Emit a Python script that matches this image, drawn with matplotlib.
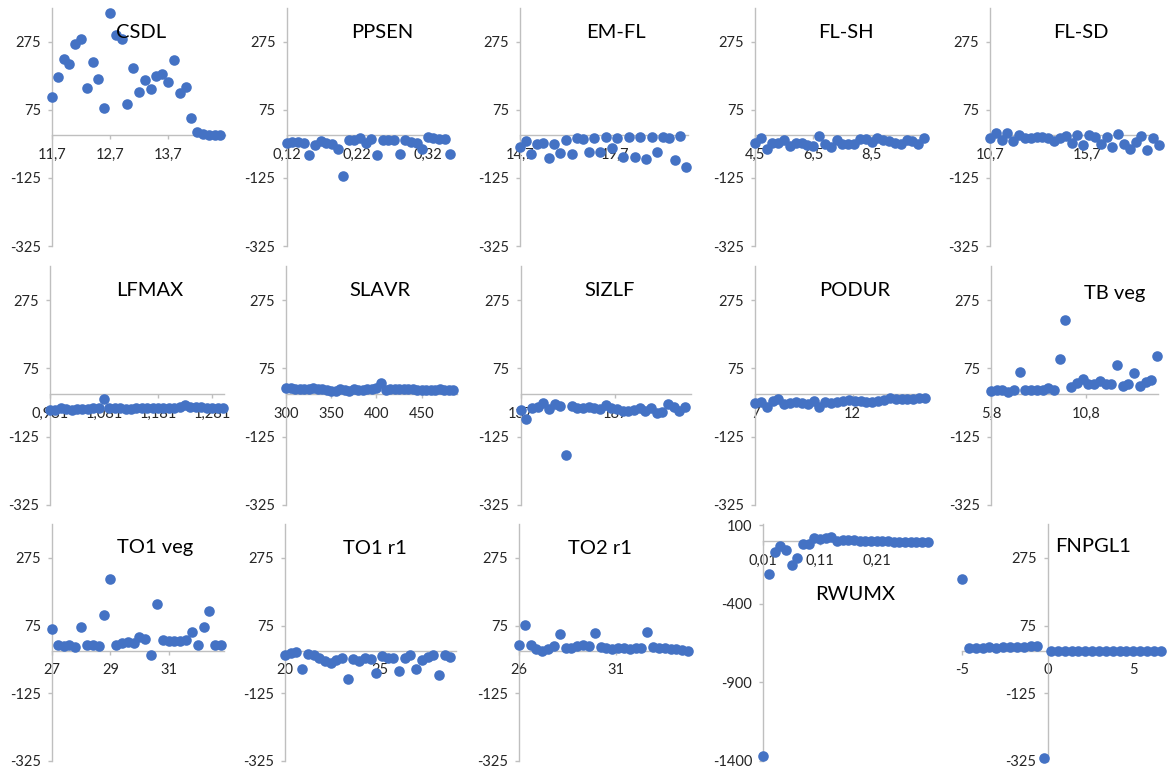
import matplotlib
matplotlib.use("Agg")
import matplotlib.pyplot as plt
from matplotlib.ticker import FixedLocator

plt.rcParams['font.family'] = ['Lato', 'DejaVu Sans']
plt.rcParams['axes.unicode_minus'] = False

# ---------------- data ----------------
CSDL_x = [11.7, 11.8, 11.9, 12.0, 12.1, 12.2, 12.3, 12.4, 12.5, 12.6, 12.7, 12.8, 12.9, 13.0, 13.1,
          13.2, 13.3, 13.4, 13.5, 13.6, 13.7, 13.8, 13.9, 14.0, 14.1, 14.2, 14.3, 14.4, 14.5, 14.6]
CSDL_y = [112, 171, 224, 210, 267, 282, 139, 215, 166, 79, 360, 295, 282, 93, 197,
          128, 163, 136, 173, 180, 156, 222, 124, 141, 51, 11, 3, 2, 2, 2]

PPSEN_x = [0.12, 0.128, 0.136, 0.144, 0.152, 0.16, 0.168, 0.176, 0.184, 0.192, 0.2, 0.208, 0.216, 0.224, 0.232,
           0.24, 0.248, 0.256, 0.264, 0.272, 0.28, 0.288, 0.296, 0.304, 0.312, 0.32, 0.328, 0.336, 0.344, 0.352]
PPSEN_y = [-22, -20, -19, -21, -59, -27, -17, -22, -26, -39, -119, -15, -15, -8, -22,
           -11, -59, -15, -15, -15, -54, -13, -20, -21, -41, -5, -8, -11, -12, -56]

EMFL_x = [14.7, 15.0, 15.3, 15.6, 15.9, 16.2, 16.5, 16.8, 17.1, 17.4, 17.7, 18.0, 18.3, 18.6, 18.9,
          19.2, 19.5, 19.8, 20.1, 20.4, 20.7, 21.0, 21.3, 21.6, 21.9, 22.2, 22.5, 22.8, 23.1, 23.4]
EMFL_y = [-34, -18, -54, -24, -22, -66, -24, -51, -15, -54, -7, -10, -50, -8, -49,
          -5, -37, -8, -63, -5, -63, -5, -70, -5, -50, -5, -8, -71, -2, -93]

FLSH_x = [4.5, 4.7, 4.9, 5.1, 5.3, 5.5, 5.7, 5.9, 6.1, 6.3, 6.5, 6.7, 6.9, 7.1, 7.3,
          7.5, 7.7, 7.9, 8.1, 8.3, 8.5, 8.7, 8.9, 9.1, 9.3, 9.5, 9.7, 9.9, 10.1, 10.3]
FLSH_y = [-22, -8, -39, -22, -22, -13, -31, -22, -22, -29, -31, -3, -26, -34, -13,
          -24, -24, -24, -10, -10, -20, -7, -13, -17, -22, -24, -13, -17, -26, -8]

FLSD_x = [10.7, 11.0, 11.3, 11.6, 11.9, 12.2, 12.5, 12.8, 13.1, 13.4, 13.7, 14.0, 14.3, 14.6, 14.9,
          15.2, 15.5, 15.8, 16.1, 16.4, 16.7, 17.0, 17.3, 17.6, 17.9, 18.2, 18.5, 18.8, 19.1, 19.4]
FLSD_y = [-7, 8, -15, 8, -17, 0, -8, -8, -5, -5, -8, -17, -8, -3, -22,
          0, -27, 0, -5, -24, -5, -34, 5, -24, -39, -20, -3, -44, -8, -27]

LFMAX_x = [0.981, 0.991, 1.001, 1.011, 1.021, 1.031, 1.041, 1.051, 1.061, 1.071, 1.081, 1.091, 1.101,
           1.111, 1.121, 1.131, 1.141, 1.151, 1.161, 1.171, 1.181, 1.191, 1.201, 1.211, 1.221, 1.231,
           1.241, 1.251, 1.261, 1.271, 1.281, 1.291, 1.301]
LFMAX_y = [-47, -47, -42, -45, -47, -45, -43, -43, -42, -42, -15, -40, -40,
           -40, -43, -43, -42, -42, -40, -40, -42, -42, -40, -40, -38, -32,
           -37, -38, -38, -40, -40, -40, -40]

SLAVR_x = [300, 305, 310, 315, 320, 325, 330, 335, 340, 345, 350, 355, 360, 365, 370, 375, 380, 385, 390,
           395, 400, 405, 410, 415, 420, 425, 430, 435, 440, 445, 450, 455, 460, 465, 470, 475, 480, 485]
SLAVR_y = [18, 17, 15, 14, 14, 15, 17, 15, 14, 12, 8, 10, 14, 12, 10, 15, 13, 12, 14,
           15, 18, 33, 12, 15, 16, 15, 15, 15, 14, 12, 12, 12, 12, 12, 14, 12, 12, 12]

SIZLF_x = [137, 140, 143, 146, 149, 152, 155, 158, 161, 164, 167, 170, 173, 176, 179,
           182, 185, 188, 191, 194, 197, 200, 203, 206, 209, 212, 215, 218, 221, 224]
SIZLF_y = [-47, -73, -40, -37, -25, -45, -30, -34, -180, -34, -42, -40, -37, -42, -44,
           -32, -42, -44, -50, -50, -47, -42, -50, -42, -57, -52, -30, -37, -50, -37]

PODUR_x = [7.0, 7.3, 7.6, 7.9, 8.2, 8.5, 8.8, 9.1, 9.4, 9.7, 10.0, 10.3, 10.6, 10.9, 11.2,
           11.5, 11.8, 12.1, 12.4, 12.7, 13.0, 13.3, 13.6, 13.9, 14.2, 14.5, 14.8, 15.1, 15.4, 15.7]
PODUR_y = [-25, -24, -39, -20, -14, -30, -27, -22, -27, -30, -20, -39, -24, -27, -22,
           -19, -17, -20, -20, -24, -22, -20, -17, -12, -15, -15, -15, -15, -12, -12]

TBVEG_x = [5.8, 6.1, 6.4, 6.7, 7.0, 7.3, 7.6, 7.9, 8.2, 8.5, 8.8, 9.1, 9.4, 9.7, 10.0,
           10.3, 10.6, 10.9, 11.2, 11.5, 11.8, 12.1, 12.4, 12.7, 13.0, 13.3, 13.6, 13.9, 14.2, 14.5]
TBVEG_y = [8, 11, 11, 5, 13, 65, 11, 13, 11, 11, 18, 13, 103, 217, 20,
           33, 45, 28, 28, 39, 28, 28, 84, 23, 28, 62, 23, 34, 40, 110]

TO1VEG_x = [27.0, 27.2, 27.4, 27.6, 27.8, 28.0, 28.2, 28.4, 28.6, 28.8, 29.0, 29.2, 29.4, 29.6, 29.8,
            30.0, 30.2, 30.4, 30.6, 30.8, 31.0, 31.2, 31.4, 31.6, 31.8, 32.0, 32.2, 32.4, 32.6, 32.8]
TO1VEG_y = [66, 18, 15, 18, 12, 72, 18, 18, 15, 106, 212, 18, 24, 27, 24,
            42, 36, -12, 139, 33, 30, 30, 30, 33, 57, 18, 72, 118, 18, 18]

TO1R1_x = [20.0, 20.3, 20.6, 20.9, 21.2, 21.5, 21.8, 22.1, 22.4, 22.7, 23.0, 23.3, 23.6, 23.9, 24.2,
           24.5, 24.8, 25.1, 25.4, 25.7, 26.0, 26.3, 26.6, 26.9, 27.2, 27.5, 27.8, 28.1, 28.4, 28.7]
TO1R1_y = [-12, -6, -3, -52, -8, -12, -20, -30, -35, -28, -22, -82, -25, -30, -20,
           -25, -64, -15, -20, -20, -58, -20, -12, -52, -28, -18, -12, -70, -12, -18]

TO2R1_x = [26.0, 26.3, 26.6, 26.9, 27.2, 27.5, 27.8, 28.1, 28.4, 28.7, 29.0, 29.3, 29.6, 29.9, 30.2,
           30.5, 30.8, 31.1, 31.4, 31.7, 32.0, 32.3, 32.6, 32.9, 33.2, 33.5, 33.8, 34.1, 34.4, 34.7]
TO2R1_y = [18, 78, 18, 6, 0, 6, 15, 51, 9, 9, 15, 18, 15, 54, 12,
           9, 6, 9, 9, 6, 9, 9, 57, 12, 9, 9, 6, 6, 3, 0]

RWUMX_x = [0.01, 0.02, 0.03, 0.04, 0.05, 0.06, 0.07, 0.08, 0.09, 0.10, 0.11, 0.12, 0.13, 0.14, 0.15,
           0.16, 0.17, 0.18, 0.19, 0.20, 0.21, 0.22, 0.23, 0.24, 0.25, 0.26, 0.27, 0.28, 0.29, 0.30]
RWUMX_y = [-1366, -211, -68, -32, -60, -154, -106, -22, -22, 20, 10, 20, 27, 3, 8,
           8, 6, 3, -1, -1, -1, 3, 3, -5, -5, -5, -5, -5, -5, -5]

FNPGL1_x = [-5.0, -4.6, -4.2, -3.8, -3.4, -3.0, -2.6, -2.2, -1.8, -1.4, -1.0, -0.6, -0.2,
            0.2, 0.6, 1.0, 1.4, 1.8, 2.2, 2.6, 3.0, 3.4, 3.8, 4.2, 4.6, 5.0, 5.4, 5.8, 6.2, 6.6]
FNPGL1_y = [213, 9, 9, 9, 12, 9, 12, 12, 12, 12, 14, 16, -316,
            0, 0, 0, 0, 0, 0, 0, 0, 0, 0, 0, 0, 0, 0, 0, 0, 0]

TITLES = ["CSDL", "PPSEN", "EM-FL", "FL-SH", "FL-SD",
          "LFMAX", "SLAVR", "SIZLF", "PODUR", "TB veg",
          "TO1 veg", "TO1 r1", "TO2 r1", "RWUMX", "FNPGL1"]
XS = [CSDL_x, PPSEN_x, EMFL_x, FLSH_x, FLSD_x, LFMAX_x, SLAVR_x, SIZLF_x, PODUR_x, TBVEG_x,
      TO1VEG_x, TO1R1_x, TO2R1_x, RWUMX_x, FNPGL1_x]
YS = [CSDL_y, PPSEN_y, EMFL_y, FLSH_y, FLSD_y, LFMAX_y, SLAVR_y, SIZLF_y, PODUR_y, TBVEG_y,
      TO1VEG_y, TO1R1_y, TO2R1_y, RWUMX_y, FNPGL1_y]

XTICKS = [[11.7, 12.7, 13.7], [0.12, 0.22, 0.32], [14.7, 19.7], [4.5, 6.5, 8.5], [10.7, 15.7],
          [0.981, 1.081, 1.181, 1.281], [300, 350, 400, 450], [137, 187], [7, 12], [5.8, 10.8],
          [27, 29, 31], [20, 25], [26, 31], [0.01, 0.11, 0.21], [-5, 0, 5]]
XTICKLABELS = [["11,7", "12,7", "13,7"], ["0,12", "0,22", "0,32"], ["14,7", "19,7"], ["4,5", "6,5", "8,5"],
               ["10,7", "15,7"], ["0,981", "1,081", "1,181", "1,281"], ["300", "350", "400", "450"],
               ["137", "187"], ["7", "12"], ["5,8", "10,8"], ["27", "29", "31"], ["20", "25"],
               ["26", "31"], ["0,01", "0,11", "0,21"], ["-5", "0", "5"]]
YTICKS_STD = [-325, -125, 75, 275]
YTICKS_RWUMX = [-1400, -900, -400, 100]

# ---------------- layout (pixels) ----------------
W, H = 1172, 771
ROW_TOP = [7.7, 266, 524]
ROW_BOT = [246, 505, 761]
# left px, right px, row, xmin, xmax, title x px, title y px
LAYOUT = [
    (52, 225, 0, 11.7, 14.68, 141, 33),
    (286.7, 448, 0, 0.12, 0.3486, 382, 33),
    (520, 688, 0, 14.7, 23.5, 616, 33),
    (755, 924, 0, 4.5, 10.3, 846, 33),
    (990, 1157, 0, 10.7, 19.3, 1081, 33),
    (50, 224, 1, 0.981, 1.303, 150, 291),
    (286, 456.7, 1, 300, 488.7, 380, 291),
    (520.7, 690.7, 1, 137, 227, 610, 291),
    (755, 924, 1, 7, 15.65, 855, 291),
    (991, 1158, 1, 5.8, 14.55, 1115, 293),
    (52, 224, 2, 27, 32.9, 155, 548),
    (285, 456, 2, 20, 29.0, 375, 548),
    (519, 690, 2, 26, 34.8, 600, 548),
    (763.3, 930, 2, 0.01, 0.304, 855, 594),
    (962, 1165, 2, -5, 6.85, 1093, 547),
]

fig = plt.figure(figsize=(W / 100, H / 100), dpi=100)
AX_COLOR = '#BFBFBF'
DOT = '#4472C4'

for i in range(15):
    l, r, row, x0, x1, tx, ty = LAYOUT[i]
    t, b = ROW_TOP[row], ROW_BOT[row]
    ax = fig.add_axes([l / W, 1 - b / H, (r - l) / W, (b - t) / H])
    ax.patch.set_alpha(0)
    ax.set_xlim(x0, x1)
    if TITLES[i] == "RWUMX":
        ax.set_ylim(-1400, 108)
        ax.yaxis.set_major_locator(FixedLocator(YTICKS_RWUMX))
        ax.set_yticklabels([str(v) for v in YTICKS_RWUMX])
    else:
        ax.set_ylim(-325, 375)
        ax.yaxis.set_major_locator(FixedLocator(YTICKS_STD))
        ax.set_yticklabels([str(v) for v in YTICKS_STD])
    ax.xaxis.set_major_locator(FixedLocator(XTICKS[i]))
    ax.set_xticklabels(XTICKLABELS[i])
    for s in ['top', 'right']:
        ax.spines[s].set_visible(False)
    ax.spines['bottom'].set_position(('data', 0))
    if TITLES[i] == "FNPGL1":
        ax.spines['left'].set_position(('data', 0))
    for s in ['bottom', 'left']:
        ax.spines[s].set_color(AX_COLOR)
        ax.spines[s].set_linewidth(1.0)
    ax.tick_params(axis='both', direction='out', length=3, width=1, color=AX_COLOR,
                   labelsize=10.5, labelcolor='#262626')
    ax.tick_params(axis='y', pad=5)
    ax.tick_params(axis='x', pad=6)
    ax.scatter(XS[i], YS[i], s=58, color=DOT, zorder=3, clip_on=False, linewidths=0)
    fig.text(tx / W, 1 - ty / H, TITLES[i], ha='center', va='center', fontsize=14.5, color='#000000')

fig.savefig('out.png', dpi=100)
